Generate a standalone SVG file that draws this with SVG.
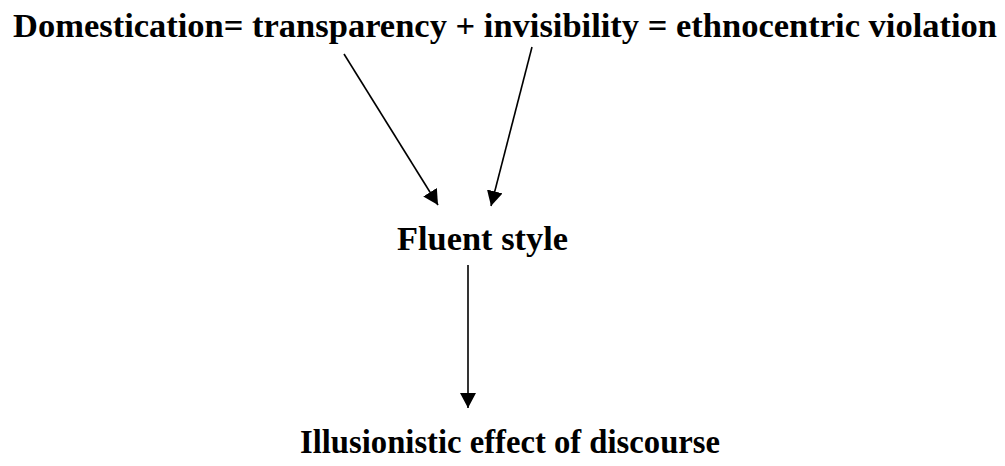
<svg xmlns="http://www.w3.org/2000/svg" width="1005" height="466" viewBox="0 0 1005 466">
<style>
text{font-family:'Liberation Serif','Times New Roman',Times,serif;font-weight:700;font-size:33px;fill:#000}
.c{stroke:#000;stroke-width:1.6;fill:none}
</style>
<defs>
<marker id="ah" viewBox="0 0 15 16" refX="15" refY="8" markerWidth="15" markerHeight="16" markerUnits="userSpaceOnUse" orient="auto">
<path d="M0,0 L15,8 L0,16 z" fill="#000"/>
</marker>
</defs>
<rect width="1005" height="466" fill="#fff"/>
<g id="n1"><text x="13" y="37" textLength="984" lengthAdjust="spacingAndGlyphs">Domestication= transparency + invisibility = ethnocentric violation</text></g>
<g id="n2"><text x="397" y="250" textLength="171" lengthAdjust="spacingAndGlyphs">Fluent style</text></g>
<g id="n3"><text x="300" y="453" textLength="420" lengthAdjust="spacingAndGlyphs">Illusionistic effect of discourse</text></g>
<g id="connectors">
<line class="c" x1="344" y1="54" x2="438" y2="205" marker-end="url(#ah)"/>
<line class="c" x1="532" y1="47" x2="491" y2="206" marker-end="url(#ah)"/>
<line class="c" x1="468" y1="265" x2="468" y2="408" marker-end="url(#ah)"/>
</g>
</svg>
